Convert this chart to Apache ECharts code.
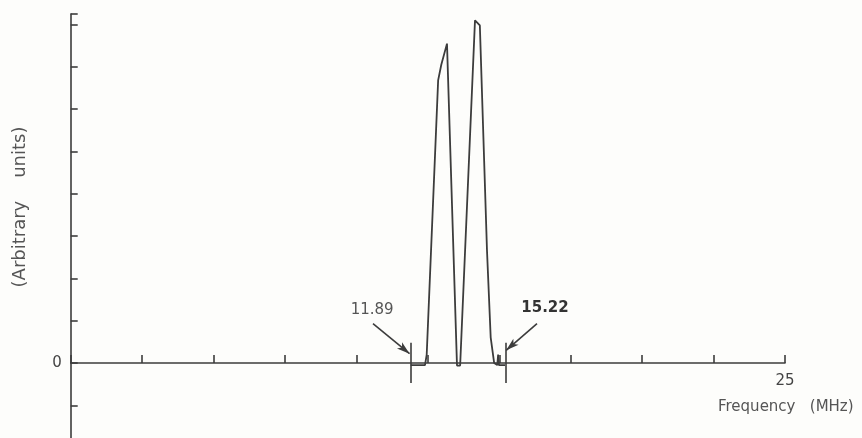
<!DOCTYPE html>
<html>
<head>
<meta charset="utf-8">
<script src="https://cdn.jsdelivr.net/npm/echarts@6/dist/echarts.min.js"></script>
<style>html,body{margin:0;padding:0;background:#fdfdfb;}#c{width:862px;height:438px;}</style>
</head>
<body>
<div id="c"></div>
<script>
// Spectrum trace (frequency in MHz, amplitude in arbitrary units)
var freq = [11.90, 12.40, 12.46, 12.86, 12.97, 13.17, 13.52, 13.63, 14.15, 14.32, 14.57, 14.70, 14.82, 14.93, 14.96, 14.99, 15.20];
var amp  = [-0.05, -0.05, 0.20, 6.68, 7.05, 7.55, -0.06, -0.06, 8.10, 7.98, 2.66, 0.60, 0.00, -0.05, 0.20, -0.05, -0.05];
// Band edge markers
var markerFreqs = [11.89, 15.22];
var markerLabels = ['11.89', '15.22'];
var markerLabelPos = [[10.55, 1.26], [16.60, 1.29]];
var arrowStarts = [[10.58, 0.93], [16.32, 0.93]];
var arrowEnds = [[11.86, 0.22], [15.24, 0.30]];
// Axis labels shown
var xTickLabels = [25];
var xTickLabelY = -0.42;
var yTickLabels = [0];

var ink = '#3c3c3c';
var series = freq.map(function (f, i) { return [f, amp[i]]; });

var markLines = [];
markerFreqs.forEach(function (f) {
  markLines.push([{coord: [f, 0.48], symbol: 'none'}, {coord: [f, -0.47], symbol: 'none'}]);
});
arrowStarts.forEach(function (s, i) {
  markLines.push([{coord: s, symbol: 'none'}, {coord: arrowEnds[i], symbol: 'arrow', symbolSize: [6, 13]}]);
});

var markPoints = markerLabels.map(function (t, i) {
  return {
    coord: markerLabelPos[i], value: t, symbol: 'circle', symbolSize: 0,
    label: {show: true, position: 'inside', formatter: t, color: i === 0 ? '#555' : '#333',
      fontFamily: 'DejaVu Sans', fontSize: 15, fontWeight: i === 0 ? 'normal' : 'bold'}
  };
});
xTickLabels.forEach(function (v) {
  markPoints.push({
    coord: [v, xTickLabelY], value: v, symbol: 'circle', symbolSize: 0,
    label: {show: true, position: 'inside', formatter: String(v), color: '#444',
      fontFamily: 'DejaVu Sans', fontSize: 15}
  });
});

var chart = echarts.init(document.getElementById('c'), null, {renderer: 'canvas'});
chart.setOption({
  backgroundColor: '#fdfdfb',
  animation: false,
  grid: {left: 70.7, top: 14, width: 714.3, height: 433.6, containLabel: false, outerBoundsMode: 'none'},
  xAxis: {
    type: 'value', min: 0, max: 25, interval: 2.5,
    axisLine: {onZero: true, lineStyle: {color: ink, width: 1.6}},
    axisTick: {show: true, inside: true, length: 8, lineStyle: {color: ink, width: 1.6}},
    splitLine: {show: false},
    axisLabel: {show: false}
  },
  yAxis: {
    type: 'value', min: -2, max: 8.25, interval: 1,
    axisLine: {onZero: false, lineStyle: {color: ink, width: 1.6}},
    axisTick: {show: true, inside: true, length: 7, lineStyle: {color: ink, width: 1.6}},
    splitLine: {show: false},
    axisLabel: {
      margin: 9, color: '#444', fontFamily: 'DejaVu Sans', fontSize: 15,
      formatter: function (v) { return yTickLabels.indexOf(v) >= 0 ? String(v) : ''; }
    }
  },
  graphic: [
    {type: 'text', left: 718, top: 400, style: {text: 'Frequency   (MHz)', fill: '#555', font: '15px "DejaVu Sans"'}},
    {type: 'text', x: 20, y: 207, rotation: Math.PI / 2, style: {text: '(Arbitrary    units)', fill: '#555', font: '18px "DejaVu Sans"', align: 'center', verticalAlign: 'middle'}}
  ],
  series: [{
    type: 'line', data: series, showSymbol: false, symbol: 'none',
    lineStyle: {color: ink, width: 1.8}, z: 3,
    markLine: {
      silent: true, symbol: 'none',
      lineStyle: {color: ink, width: 1.6, type: 'solid'},
      label: {show: false},
      data: markLines
    },
    markPoint: {silent: true, data: markPoints}
  }]
});
</script>
</body>
</html>
